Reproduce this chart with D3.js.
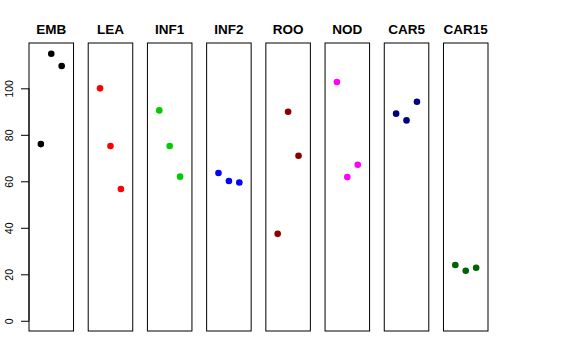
<!DOCTYPE html>
<html><head><meta charset="utf-8">
<script src="https://cdn.jsdelivr.net/npm/d3@7"></script>
<style>body{margin:0;background:#fff}svg{display:block}</style>
</head><body><svg id="c" width="576" height="360"></svg>
<script>
const categories = ["EMB","LEA","INF1","INF2","ROO","NOD","CAR5","CAR15"];
const colors = ["#000000","#FF0000","#00CD00","#0000FF","#8B0000","#FF00FF","#000080","#006400"];
const rep1 = [76.0, 100.0, 90.5, 63.6, 37.4, 102.7, 89.1, 24.0];
const rep2 = [114.9, 75.2, 75.2, 60.1, 89.9, 61.8, 86.2, 21.5];
const rep3 = [109.6, 56.7, 62.0, 59.5, 71.0, 67.1, 94.2, 22.8];
const yTicks = [0, 20, 40, 60, 80, 100];

const svg = d3.select("#c");
const y = d3.scaleLinear().domain([-4.4, 119.5]).range([331, 43]);
const xb = d3.scaleBand().domain(categories).range([29, 488]).paddingInner(0.248).paddingOuter(0);
const bw = xb.bandwidth();
const xi = d3.scaleLinear().domain([-0.136, 4.136]).range([0, bw]);

categories.forEach((c, k) => {
  const g = svg.append("g").attr("transform", `translate(${xb(c)},0)`);
  g.append("rect").attr("x", 0).attr("y", y(119.5)).attr("width", bw)
    .attr("height", y(-4.4) - y(119.5)).attr("fill", "none")
    .attr("stroke", "#000").attr("stroke-width", 1);
  g.append("text").attr("x", bw / 2).attr("y", 34)
    .attr("text-anchor", "middle").attr("font-family", "Liberation Sans, Arial, sans-serif")
    .attr("font-weight", "bold").attr("font-size", 13.5).text(c);
  const vals = [rep1[k], rep2[k], rep3[k]];
  g.selectAll("circle").data(vals).join("circle")
    .attr("cx", (d, i) => xi(i + 1)).attr("cy", d => y(d))
    .attr("r", 3.3).attr("fill", colors[k]);
});

const axis = d3.axisLeft(y).tickValues(yTicks).tickSize(8).tickPadding(8).tickFormat(d3.format("d"));
const ag = svg.append("g").attr("transform", `translate(${xb(categories[0])},0)`).call(axis);
ag.select(".domain").attr("d", `M0,${y(0)}V${y(100)}`).attr("stroke", "#000");
ag.selectAll(".tick line").attr("stroke", "#000");
ag.selectAll(".tick text")
  .attr("font-family", "Liberation Sans, Arial, sans-serif").attr("font-size", 10.5)
  .attr("fill", "#000")
  .attr("text-anchor", "middle")
  .attr("dy", 0)
  .attr("transform", "translate(-16,0) rotate(-90)")
  .attr("x", 0).attr("y", 0);
</script></body></html>
